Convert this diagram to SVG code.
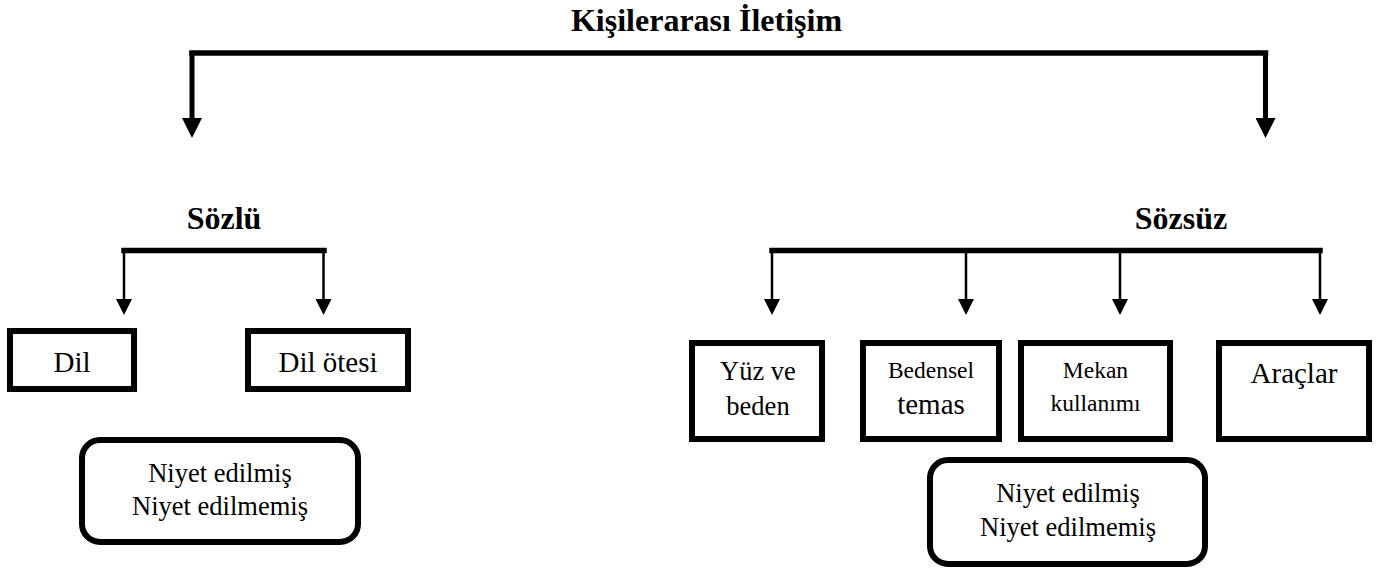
<svg xmlns="http://www.w3.org/2000/svg" width="1386" height="570" viewBox="0 0 1386 570">
<style>
.bg{fill:#ffffff}
.box{fill:#ffffff;stroke:#000000;stroke-width:6}
.bar{fill:none;stroke:#000000;stroke-width:5.5;stroke-linecap:square}
.thick{fill:none;stroke:#000000;stroke-width:5}
.thin{fill:none;stroke:#000000;stroke-width:2.5}
.h{font-family:"Liberation Serif","Times New Roman",serif;font-weight:bold;font-size:32px;fill:#000;text-anchor:middle}
.t{font-family:"Liberation Serif","Times New Roman",serif;font-size:29px;fill:#000;text-anchor:middle}
.m{font-family:"Liberation Serif","Times New Roman",serif;font-size:26.5px;fill:#000;text-anchor:middle}
.s{font-family:"Liberation Serif","Times New Roman",serif;font-size:23.5px;fill:#000;text-anchor:middle}
</style>
<defs>
<marker id="bigArrow" markerUnits="userSpaceOnUse" markerWidth="20" markerHeight="20" viewBox="0 0 20 20" refX="0" refY="10" orient="auto">
<path d="M0,0 L20,10 L0,20 Z" fill="#000"/>
</marker>
<marker id="smallArrow" markerUnits="userSpaceOnUse" markerWidth="16" markerHeight="16" viewBox="0 0 16 16" refX="0" refY="8" orient="auto">
<path d="M0,0 L16,8 L0,16 Z" fill="#000"/>
</marker>
</defs>
<rect class="bg" x="0" y="0" width="1386" height="570"/>

<g id="connectors">
<path class="bar" d="M192,53 H1265.5"/>
<path class="thick" d="M192,51 V118" marker-end="url(#bigArrow)"/>
<path class="thick" d="M1265.5,51 V118" marker-end="url(#bigArrow)"/>
<path class="bar" d="M124,250.5 H324"/>
<path class="thin" d="M124,250 V299" marker-end="url(#smallArrow)"/>
<path class="thin" d="M323.5,250 V299" marker-end="url(#smallArrow)"/>
<path class="bar" d="M772,250.5 H1320"/>
<path class="thin" d="M772,250 V299" marker-end="url(#smallArrow)"/>
<path class="thin" d="M966,250 V299" marker-end="url(#smallArrow)"/>
<path class="thin" d="M1120,250 V299" marker-end="url(#smallArrow)"/>
<path class="thin" d="M1320,250 V299" marker-end="url(#smallArrow)"/>
</g>

<g id="title"><text class="h" x="706.5" y="31">Kişilerarası İletişim</text></g>
<g id="sozlu"><text class="h" x="224" y="229">Sözlü</text></g>
<g id="sozsuz"><text class="h" x="1181" y="229">Sözsüz</text></g>

<g id="dil">
<rect class="box" x="10" y="331" width="124" height="58"/>
<text class="t" x="72" y="372">Dil</text>
</g>
<g id="dil-otesi">
<rect class="box" x="248" y="331" width="160" height="58"/>
<text class="t" x="328" y="372">Dil ötesi</text>
</g>
<g id="niyet-sol">
<rect class="box" x="82" y="440" width="276" height="102" rx="18" ry="18"/>
<text class="m" x="220" y="482">Niyet edilmiş</text>
<text class="m" x="220" y="515">Niyet edilmemiş</text>
</g>

<g id="yuz-beden">
<rect class="box" x="692" y="343" width="130" height="96"/>
<text class="m" x="758" y="380">Yüz ve</text>
<text class="m" x="758" y="415">beden</text>
</g>
<g id="bedensel-temas">
<rect class="box" x="863" y="343" width="136" height="96"/>
<text class="s" x="931" y="378">Bedensel</text>
<text class="t" x="931" y="414">temas</text>
</g>
<g id="mekan">
<rect class="box" x="1021" y="343" width="149" height="96"/>
<text class="s" x="1095.5" y="378">Mekan</text>
<text class="s" x="1095.5" y="411">kullanımı</text>
</g>
<g id="araclar">
<rect class="box" x="1219" y="343" width="150" height="96"/>
<text class="t" x="1294" y="383">Araçlar</text>
</g>
<g id="niyet-sag">
<rect class="box" x="930" y="460" width="275" height="104" rx="18" ry="18"/>
<text class="m" x="1068" y="502">Niyet edilmiş</text>
<text class="m" x="1068" y="536">Niyet edilmemiş</text>
</g>
</svg>
